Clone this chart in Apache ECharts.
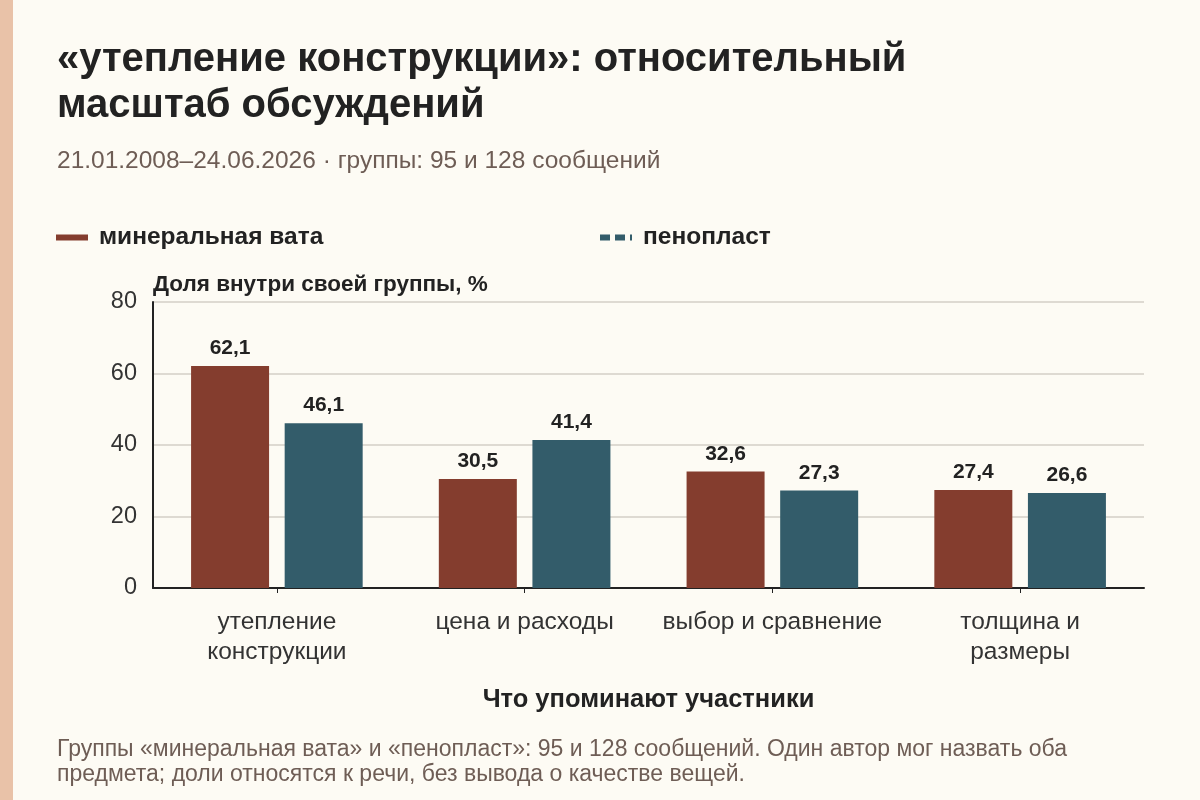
<!DOCTYPE html>
<html>
<head>
<meta charset="utf-8">
<script src="https://cdn.jsdelivr.net/npm/echarts@6/dist/echarts.min.js"></script>
<style>
  html, body { margin: 0; padding: 0; background: #fdfbf4; }
  #chart { width: 1200px; height: 800px; }
</style>
</head>
<body>
<div id="chart"></div>
<script>
const categories = ['утепление\nконструкции', 'цена и расходы', 'выбор и сравнение', 'толщина и\nразмеры'];
const seriesNames = ['минеральная вата', 'пенопласт'];
const woolValues = [62.1, 30.5, 32.6, 27.4];
const foamValues = [46.1, 41.4, 27.3, 26.6];
const yTicks = [0, 20, 40, 60, 80];

const FONT = '"Liberation Sans", Arial, sans-serif';
const RED = '#843d2e';
const BLUE = '#335c6a';

function fmt(v) {
  return v.toFixed(1).replace('.', ',');
}

function renderChart() {
  const chart = echarts.init(document.getElementById('chart'));

  const barLabel = {
    show: true,
    position: 'top',
    distance: 7,
    formatter: p => fmt(p.value),
    fontFamily: FONT,
    fontSize: 21,
    fontWeight: 'bold',
    color: '#222'
  };

  chart.setOption({
    backgroundColor: '#fdfbf4',
    textStyle: { fontFamily: FONT },
    title: [
      {
        text: '«утепление конструкции»: относительный\nмасштаб обсуждений',
        left: 52,
        top: 32,
        textStyle: { fontSize: 40, fontWeight: 'bold', color: '#222', lineHeight: 46, fontFamily: FONT }
      },
      {
        text: '21.01.2008–24.06.2026 · группы: 95 и 128 сообщений',
        left: 52,
        top: 144,
        textStyle: { fontSize: 24.5, fontWeight: 'normal', color: '#6e5d55', fontFamily: FONT }
      },
      {
        text: 'Группы «минеральная вата» и «пенопласт»: 95 и 128 сообщений. Один автор мог назвать оба\nпредмета; доли относятся к речи, без вывода о качестве вещей.',
        left: 52,
        top: 732,
        textStyle: { fontSize: 23, fontWeight: 'normal', color: '#6e5d55', lineHeight: 25, fontFamily: FONT }
      }
    ],
    legend: [
      {
        data: [{ name: seriesNames[0], icon: 'rect' }],
        left: 51,
        top: 220,
        itemWidth: 32,
        itemHeight: 6,
        textStyle: { fontSize: 24.5, fontWeight: 'bold', color: '#222', padding: [0, 0, 0, 6] }
      },
      {
        data: [{ name: seriesNames[1], icon: 'path://M0,0h10v6h-10z M15,0h10v6h-10z M30,0h2v6h-2z' }],
        left: 595,
        top: 220,
        itemWidth: 32,
        itemHeight: 6,
        textStyle: { fontSize: 24.5, fontWeight: 'bold', color: '#222', padding: [0, 0, 0, 6] }
      }
    ],
    graphic: [
      { type: 'rect', left: 0, top: 0, shape: { width: 13, height: 800 }, style: { fill: '#e9c2a8' } }
    ],
    grid: { left: 153, right: 56, top: 302, bottom: 212 },
    xAxis: {
      type: 'category',
      data: categories,
      name: 'Что упоминают участники',
      nameLocation: 'middle',
      nameGap: 99,
      nameTextStyle: { fontSize: 25.5, fontWeight: 'bold', color: '#222' },
      axisLine: { lineStyle: { color: '#222', width: 2 } },
      axisTick: { show: true, alignWithLabel: true, length: 5, lineStyle: { color: '#222' } },
      axisLabel: { interval: 0, fontSize: 24.5, color: '#333', margin: 19, lineHeight: 30 }
    },
    yAxis: {
      type: 'value',
      min: yTicks[0],
      max: yTicks[yTicks.length - 1],
      interval: 20,
      name: 'Доля внутри своей группы, %',
      nameLocation: 'end',
      nameGap: 17,
      nameTextStyle: { fontSize: 22.5, fontWeight: 'bold', color: '#222', align: 'left', verticalAlign: 'middle' },
      axisLine: { show: true, lineStyle: { color: '#222', width: 2 } },
      axisTick: { show: false },
      axisLabel: { fontSize: 23.5, color: '#333', margin: 16 },
      splitLine: { lineStyle: { color: '#d3cfc7', width: 1.5 } }
    },
    series: [
      {
        name: seriesNames[0],
        type: 'bar',
        data: woolValues,
        barWidth: 78,
        barGap: '20%',
        itemStyle: { color: RED },
        label: barLabel
      },
      {
        name: seriesNames[1],
        type: 'bar',
        data: foamValues,
        barWidth: 78,
        barGap: '20%',
        itemStyle: { color: BLUE },
        label: barLabel
      }
    ]
  });

  window.addEventListener('resize', () => chart.resize());
}

document.addEventListener('DOMContentLoaded', () => {
  renderChart();
});
</script>
</body>
</html>
